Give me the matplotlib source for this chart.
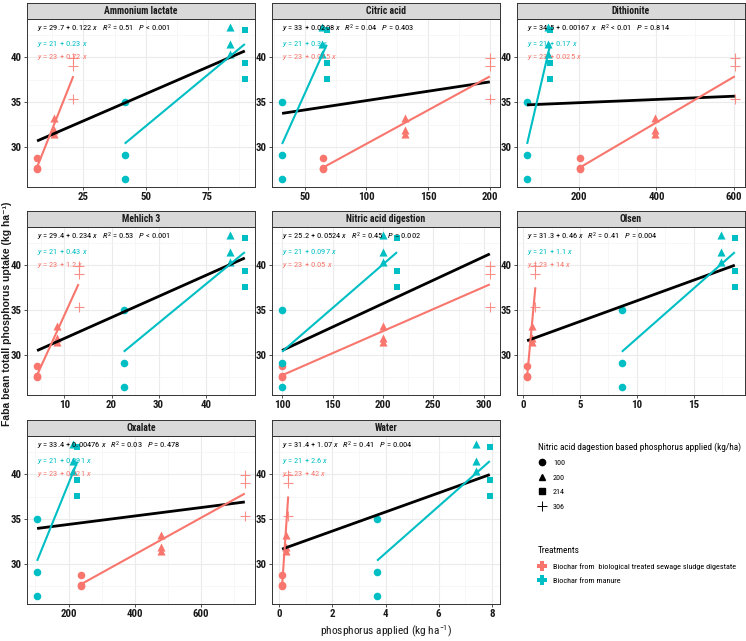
import numpy as np
import matplotlib
matplotlib.use("Agg")
import matplotlib.pyplot as plt
from matplotlib import font_manager
from matplotlib.lines import Line2D
from matplotlib.ticker import FixedLocator

""" Pick a narrow face if one is installed """
names = sorted({f.name for f in font_manager.fontManager.ttflist})
prefer = ['Liberation Sans Narrow', 'Arial Narrow', 'Roboto Condensed', 'Noto Sans Condensed',
          'Open Sans Condensed', 'DejaVu Sans Condensed', 'Noto Sans SemiCondensed']
narrow = None
for p in prefer:
    if p in names:
        narrow = p
        break
if narrow is None:
    for n in names:
        if ('Condensed' in n or 'Narrow' in n) and 'Extra' not in n and 'Mono' not in n:
            narrow = n
            break
if narrow is None:
    narrow = 'Liberation Sans'
    k = 0.8
else:
    k = 1.0

plt.rcParams['font.family'] = [narrow, 'DejaVu Sans']
plt.rcParams['mathtext.fontset'] = 'custom'
plt.rcParams['mathtext.rm'] = narrow
plt.rcParams['mathtext.it'] = narrow + ':italic'

""" Facets (extraction methods) """
methods = ["Ammonium lactate", "Citric acid", "Dithionite", "Mehlich 3",
           "Nitric acid digestion", "Olsen", "Oxalate", "Water"]

""" Uptake values (same in every facet), 3 reps per level """
y_sludge_100 = [28.8, 27.7, 27.5]
y_sludge_200 = [33.2, 31.9, 31.4]
y_sludge_306 = [39.9, 39.0, 35.4]
y_manure_100 = [35.0, 29.1, 26.4]
y_manure_200 = [43.4, 41.5, 40.3]
y_manure_214 = [43.0, 39.4, 37.6]

""" Phosphorus applied by each method, one value per facet """
x_sludge_100 = [6.3, 65.2, 203, 4.2, 100, 0.32, 237, 0.11]
x_sludge_200 = [13.3, 130.9, 396, 8.4, 200, 0.73, 480, 0.24]
x_sludge_306 = [20.9, 200, 603, 13.0, 306, 1.05, 733, 0.34]
x_manure_100 = [41.6, 31.7, 64.7, 22.6, 100, 8.68, 105, 3.68]
x_manure_200 = [83.9, 63.9, 117.8, 45.1, 200, 17.42, 213, 7.39]
x_manure_214 = [90.0, 67.9, 124.6, 48.3, 214, 18.64, 227, 7.92]

x_ticks = [[25, 50, 75], [50, 100, 150, 200], [200, 400, 600], [10, 20, 30, 40],
           [100, 150, 200, 250, 300], [0, 5, 10, 15], [200, 400, 600], [0, 2, 4, 6, 8]]
y_ticks = [30, 35, 40]

eq_all = [r"$y$ = 29.7 + 0.122 $x$   $R^2$ = 0.51   $P$ < 0.001",
          r"$y$ = 33 + 0.0208 $x$   $R^2$ = 0.04   $P$ = 0.403",
          r"$y$ = 34.5 + 0.00167 $x$   $R^2$ < 0.01   $P$ = 0.814",
          r"$y$ = 29.4 + 0.234 $x$   $R^2$ = 0.53   $P$ < 0.001",
          r"$y$ = 25.2 + 0.0524 $x$   $R^2$ = 0.45   $P$ = 0.002",
          r"$y$ = 31.3 + 0.46 $x$   $R^2$ = 0.41   $P$ = 0.004",
          r"$y$ = 33.4 + 0.00476 $x$   $R^2$ = 0.03   $P$ = 0.478",
          r"$y$ = 31.4 + 1.07 $x$   $R^2$ = 0.41   $P$ = 0.004"]
eq_manure = ["0.23", "0.3", "0.17", "0.43", "0.097", "1.1", "0.091", "2.6"]
eq_sludge = ["0.72", "0.075", "0.025", "1.2", "0.05", "14", "0.021", "42"]

levels = ["100", "200", "214", "306"]
treatments = ["Biochar from  biological treated sewage sludge digestate", "Biochar from manure"]

pink = '#F8766D'
teal = '#00BFC4'
markers = {"100": 'o', "200": '^', "214": 's', "306": '+'}
msize = {"100": 30, "200": 34, "214": 24, "306": 60}

sludge = [("100", x_sludge_100, y_sludge_100), ("200", x_sludge_200, y_sludge_200),
          ("306", x_sludge_306, y_sludge_306)]
manure = [("100", x_manure_100, y_manure_100), ("200", x_manure_200, y_manure_200),
          ("214", x_manure_214, y_manure_214)]

W, H = 746, 641
fig = plt.figure(figsize=(W / 100, H / 100), dpi=100)

col_left = [26.7, 271.7, 516.7]
panel_w = 228.5
row_top = [19, 227, 436]
panel_h = 168
strip_h = 16.5

all_y = np.array(y_sludge_100 + y_sludge_200 + y_sludge_306 + y_manure_100 + y_manure_200 + y_manure_214)
ypad = 0.05 * (all_y.max() - all_y.min())


def group_xy(groups, i):
    xs, ys = [], []
    for lev, xl, yl in groups:
        xs += [xl[i]] * len(yl)
        ys += yl
    return np.array(xs), np.array(ys)


for i, m in enumerate(methods):
    r, c = divmod(i, 3)
    ax = fig.add_axes([col_left[c] / W, 1 - (row_top[r] + panel_h) / H, panel_w / W, panel_h / H])
    st = fig.add_axes([col_left[c] / W, 1 - row_top[r] / H, panel_w / W, strip_h / H])
    st.set_facecolor('#D9D9D9')
    st.set_xticks([])
    st.set_yticks([])
    for s in st.spines.values():
        s.set_color('#333333')
        s.set_linewidth(0.7)
    st.text(0.5, 0.47, m, ha='center', va='center', fontsize=7 * k, color='#1A1A1A',
            transform=st.transAxes, fontweight='bold')

    """ points """
    for groups, col in [(sludge, pink), (manure, teal)]:
        for lev, xl, yl in groups:
            if markers[lev] == '+':
                ax.scatter([xl[i]] * len(yl), yl, marker='+', s=msize[lev], color=col,
                           linewidths=0.8, alpha=0.8, zorder=3)
            else:
                ax.scatter([xl[i]] * len(yl), yl, marker=markers[lev], s=msize[lev], color=col,
                           linewidths=0, zorder=3)

    """ regression lines """
    xs_s, ys_s = group_xy(sludge, i)
    xs_m, ys_m = group_xy(manure, i)
    xs_a = np.concatenate([xs_s, xs_m])
    ys_a = np.concatenate([ys_s, ys_m])
    for xs, ys, col, lw in [(xs_a, ys_a, 'black', 2.0), (xs_s, ys_s, pink, 1.5), (xs_m, ys_m, teal, 1.5)]:
        b, a = np.polyfit(xs, ys, 1)
        xx = np.array([xs.min(), xs.max()])
        ax.plot(xx, a + b * xx, color=col, lw=lw, zorder=4, solid_capstyle='butt')

    xpad = 0.05 * (xs_a.max() - xs_a.min())
    ax.set_xlim(xs_a.min() - xpad, xs_a.max() + xpad)
    ax.set_ylim(all_y.min() - ypad, all_y.max() + ypad)

    xt = x_ticks[i]
    step = xt[1] - xt[0]
    ax.set_xticks(xt)
    ax.xaxis.set_minor_locator(FixedLocator([xt[0] - step / 2] + [t + step / 2 for t in xt]))
    ax.set_yticks(y_ticks)
    ax.yaxis.set_minor_locator(FixedLocator([27.5, 32.5, 37.5, 42.5]))
    ax.grid(which='major', color='#EBEBEB', lw=0.8, zorder=0)
    ax.grid(which='minor', color='#F4F4F4', lw=0.5, zorder=0)
    ax.set_axisbelow(True)
    ax.tick_params(which='minor', length=0)
    ax.tick_params(which='major', length=2, width=0.6, color='#333333', labelsize=7.8 * k,
                   pad=1.5, labelcolor='#1A1A1A')
    for lab in ax.get_xticklabels() + ax.get_yticklabels():
        lab.set_fontweight('bold')
    for s in ax.spines.values():
        s.set_color('#333333')
        s.set_linewidth(0.7)

    ax.text(10 / panel_w, 1 - 10.3 / panel_h, eq_all[i], transform=ax.transAxes,
            fontsize=6.1 * k, va='center', ha='left', color='black')
    ax.text(10 / panel_w, 1 - 24.7 / panel_h, r"$y$ = 21 + %s $x$" % eq_manure[i],
            transform=ax.transAxes, fontsize=6.1 * k, va='center', ha='left', color=teal)
    ax.text(10 / panel_w, 1 - 38.3 / panel_h, r"$y$ = 23 + %s $x$" % eq_sludge[i],
            transform=ax.transAxes, fontsize=6.1 * k, va='center', ha='left', color=pink)

""" axis titles """
fig.text(386 / W, 1 - 631 / H, r"phosphorus applied (kg ha$^{-1}$)", ha='center', va='center',
         fontsize=8.2 * k, color='#1A1A1A')
fig.text(6.6 / W, 1 - 314 / H, "Faba bean totall phosphorus uptake (kg ha\u207b\u00b9)", ha='center',
         va='center', rotation=90, fontsize=7.5, fontweight='bold', color='#1A1A1A',
         family=['Liberation Sans', 'DejaVu Sans'])

""" legends """
shape_handles = []
for lev in levels:
    if markers[lev] == '+':
        shape_handles.append(Line2D([], [], marker='+', color='black', linestyle='none',
                                    markersize=7, markeredgewidth=0.7))
    else:
        shape_handles.append(Line2D([], [], marker=markers[lev], color='black', linestyle='none',
                                    markersize=4.5))
leg1 = fig.legend(handles=shape_handles, labels=levels,
                  title="Nitric acid dagestion based phosphorus applied (kg/ha)",
                  loc='upper left', bbox_to_anchor=(534 / W, 1 - 438 / H), frameon=False,
                  alignment='left', fontsize=5.9 * k, title_fontsize=6.7 * k, handlelength=1.0,
                  handletextpad=0.8, labelspacing=0.95, borderpad=0)

treat_handles = [Line2D([], [], marker='P', color=col, linestyle='none', markersize=7,
                        markeredgewidth=0) for col in [pink, teal]]
leg2 = fig.legend(handles=treat_handles, labels=treatments, title="Treatments",
                  loc='upper left', bbox_to_anchor=(534 / W, 1 - 542 / H), frameon=False,
                  alignment='left', fontsize=5.9 * k, title_fontsize=6.7 * k, handlelength=1.0,
                  handletextpad=0.8, labelspacing=0.95, borderpad=0)

fig.savefig("out.png", dpi=100)
